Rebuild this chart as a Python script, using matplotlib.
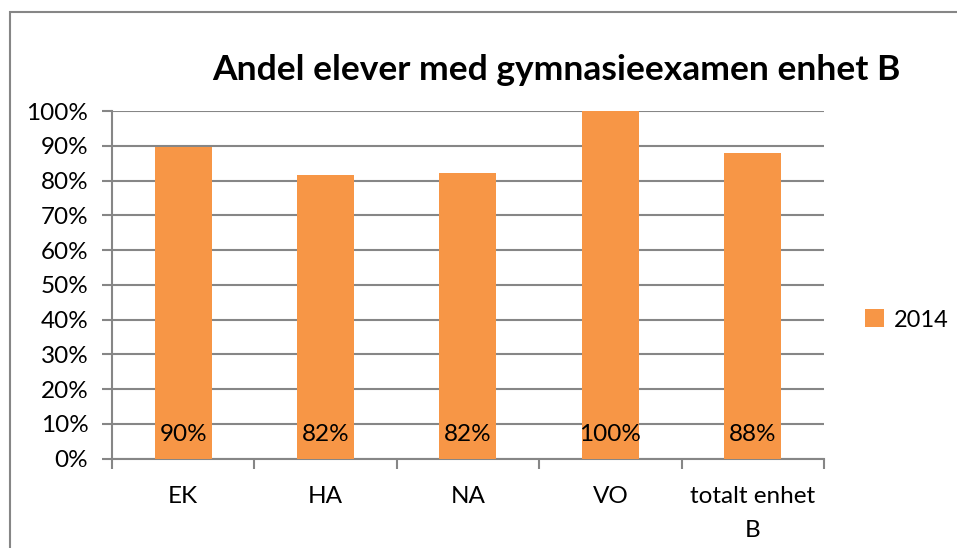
import matplotlib.pyplot as plt
from matplotlib.patches import Rectangle
from matplotlib.ticker import FixedLocator, PercentFormatter

plt.rcParams['font.family'] = ['Lato', 'DejaVu Sans']

# data
categories = ['EK', 'HA', 'NA', 'VO', 'totalt enhet\nB']
andel_2014 = [0.896, 0.816, 0.822, 1.0, 0.879]
series_name = '2014'
title = 'Andel elever med gymnasieexamen enhet B'

bar_color = '#F79646'
grid_color = '#868686'

fig = plt.figure(figsize=(9.57, 5.48), dpi=100)
ax = fig.add_axes([0.117, 0.163, 0.744, 0.634])

x = range(len(categories))
bars = ax.bar(x, andel_2014, width=0.4, color=bar_color, label=series_name, zorder=3)

# value labels at the base of each bar
for xi, v in zip(x, andel_2014):
    ax.text(xi, 0.07, f'{v * 100:.0f}%', ha='center', va='center', fontsize=17.5, zorder=4)

ax.set_xlim(-0.5, len(categories) - 0.5)
ax.set_ylim(0, 1.0)
ax.set_yticks([i / 10 for i in range(11)])
ax.yaxis.set_major_formatter(PercentFormatter(1.0, decimals=0))
ax.yaxis.grid(True, color=grid_color, linewidth=1.5, zorder=0)

ax.set_xticks(list(x))
ax.set_xticklabels(categories, fontsize=17.5, linespacing=1.75)
ax.xaxis.set_minor_locator(FixedLocator([i - 0.5 for i in range(len(categories) + 1)]))
ax.tick_params(axis='x', which='major', length=0, pad=20)
ax.tick_params(axis='x', which='minor', length=7, width=1.5, color=grid_color, direction='out')
ax.tick_params(axis='y', length=7, width=1.5, color=grid_color, labelsize=17.5, pad=10)

for side in ['top', 'right']:
    ax.spines[side].set_visible(False)
for side in ['left', 'bottom']:
    ax.spines[side].set_color(grid_color)
    ax.spines[side].set_linewidth(1.5)

fig.text(0.581, 0.872, title, ha='center', va='center', fontsize=25.5, fontweight='bold')

leg = fig.legend(loc='center left', bbox_to_anchor=(0.882, 0.416), frameon=False,
                 fontsize=17, handlelength=0.8, handleheight=0.8, handletextpad=0.4)

# chart border (only top and left edges visible in the crop)
fig.patches.append(Rectangle((10 / 957, -0.1), 1.2, 1 - 12 / 548 + 0.1,
                             transform=fig.transFigure, fill=False,
                             edgecolor=grid_color, linewidth=1.5))

fig.savefig('out.png', dpi=100)
